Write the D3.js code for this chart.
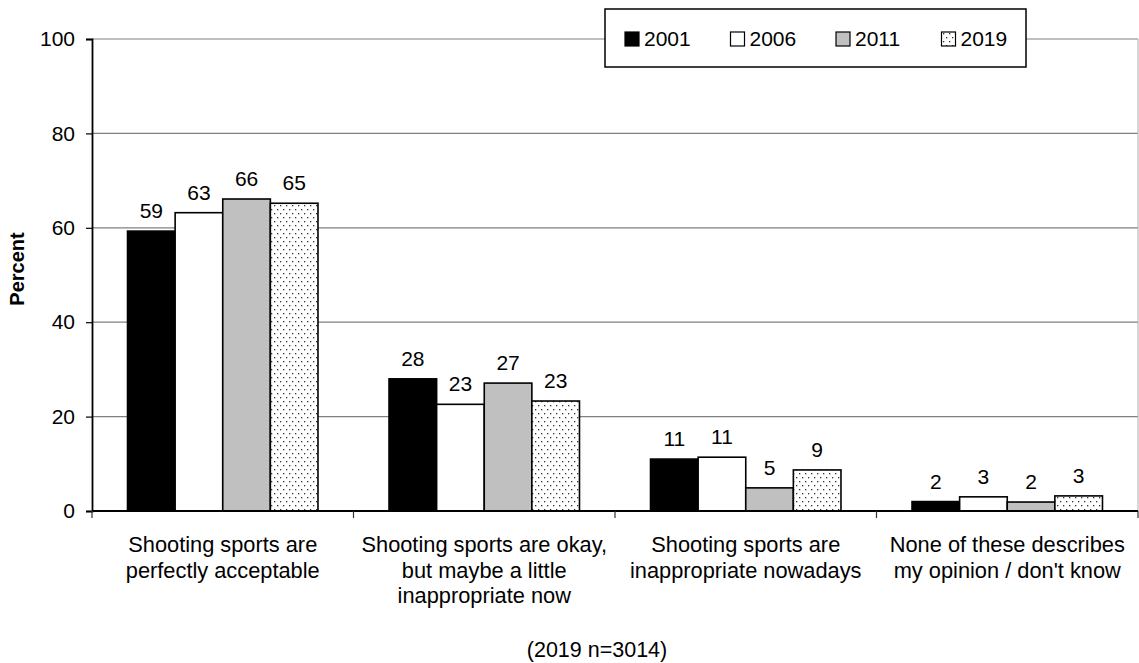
<!DOCTYPE html>
<html>
<head>
<meta charset="utf-8">
<script src="https://cdn.jsdelivr.net/npm/d3@7"></script>
<style>
  html, body { margin: 0; padding: 0; background: #fff; }
  svg { display: block; font-family: "Liberation Sans", Arial, sans-serif; }
</style>
</head>
<body>
<svg id="chart" width="1139" height="663"></svg>
<script>
// ---- data ----
const categories = [
  "Shooting sports are perfectly acceptable",
  "Shooting sports are okay, but maybe a little inappropriate now",
  "Shooting sports are inappropriate nowadays",
  "None of these describes my opinion / don't know"
];
const categoryLines = [
  ["Shooting sports are", "perfectly acceptable"],
  ["Shooting sports are okay,", "but maybe a little", "inappropriate now"],
  ["Shooting sports are", "inappropriate nowadays"],
  ["None of these describes", "my opinion / don't know"]
];
const years = ["2001", "2006", "2011", "2019"];
const values2001 = [59.3, 28.0, 11.0, 2.0];
const values2006 = [63.2, 22.6, 11.4, 3.0];
const values2011 = [66.1, 27.1, 4.9, 1.9];
const values2019 = [65.2, 23.3, 8.7, 3.2];
const labels2001 = ["59", "28", "11", "2"];
const labels2006 = ["63", "23", "11", "3"];
const labels2011 = ["66", "27", "5", "2"];
const labels2019 = ["65", "23", "9", "3"];
const yTicks = [0, 20, 40, 60, 80, 100];
const yTitle = "Percent";
const footnote = "(2019 n=3014)";

(function () {
const seriesValues = [values2001, values2006, values2011, values2019];
const seriesLabels = [labels2001, labels2006, labels2011, labels2019];
const fills = ["#000000", "#ffffff", "#c0c0c0", "url(#dots)"];

// ---- layout ----
const svg = d3.select("#chart");
const pLeft = 92, pRight = 1138, pTop = 39, pBottom = 511;

const defs = svg.append("defs");
const pat = defs.append("pattern").attr("id", "dots")
  .attr("patternUnits", "userSpaceOnUse").attr("width", 6).attr("height", 8);
pat.append("rect").attr("width", 6).attr("height", 8).attr("fill", "#fff");
pat.append("rect").attr("x", 1).attr("y", 1).attr("width", 1.3).attr("height", 1.3).attr("fill", "#333");
pat.append("rect").attr("x", 4).attr("y", 5).attr("width", 1.3).attr("height", 1.3).attr("fill", "#333");

const x0 = d3.scaleBand().domain(categories).range([pLeft, pRight]).padding(0);
const x1 = d3.scaleBand().domain(years).range([0, x0.bandwidth()])
  .paddingInner(0).paddingOuter(0.746);
const y = d3.scaleLinear().domain([0, 100]).range([pBottom, pTop]);

// gridlines
svg.append("g").selectAll("line").data(yTicks.filter(d => d > 0)).join("line")
  .attr("x1", pLeft).attr("x2", pRight)
  .attr("y1", d => y(d)).attr("y2", d => y(d))
  .attr("stroke", "#808080").attr("stroke-width", 1.2);

// right border
svg.append("line").attr("x1", pRight).attr("x2", pRight)
  .attr("y1", y(100)).attr("y2", y(0))
  .attr("stroke", "#b0b0b0").attr("stroke-width", 1);

// bars
const data = [];
categories.forEach((c, i) => years.forEach((yr, j) => {
  data.push({ c, yr, j, v: seriesValues[j][i], label: seriesLabels[j][i] });
}));

svg.append("g").selectAll("rect").data(data).join("rect")
  .attr("x", d => x0(d.c) + x1(d.yr))
  .attr("y", d => y(d.v))
  .attr("width", x1.bandwidth())
  .attr("height", d => y(0) - y(d.v))
  .attr("fill", d => fills[d.j])
  .attr("stroke", "#000").attr("stroke-width", 1.6);

// data labels
svg.append("g").selectAll("text").data(data).join("text")
  .attr("x", d => x0(d.c) + x1(d.yr) + x1.bandwidth() / 2)
  .attr("y", d => y(d.v) - 13)
  .attr("text-anchor", "middle")
  .attr("font-size", 21).attr("fill", "#000")
  .text(d => d.label);

// y axis
const yAxis = svg.append("g").attr("transform", `translate(${pLeft},0)`)
  .call(d3.axisLeft(y).tickValues(yTicks).tickSize(6).tickPadding(11));
yAxis.select(".domain").attr("stroke", "#000").attr("stroke-width", 1.8);
yAxis.selectAll(".tick line").attr("stroke", "#000").attr("stroke-width", 1.2);
yAxis.selectAll(".tick text").attr("font-size", 21).attr("fill", "#000")
  .attr("font-family", "Liberation Sans, Arial, sans-serif");

// x axis line and ticks at category boundaries
const boundaries = categories.map(c => x0(c)).concat([x0(categories[3]) + x0.bandwidth()]);
svg.append("line").attr("x1", pLeft).attr("x2", pRight)
  .attr("y1", y(0)).attr("y2", y(0)).attr("stroke", "#000").attr("stroke-width", 1.8);
svg.append("g").selectAll("line").data(boundaries).join("line")
  .attr("x1", d => d).attr("x2", d => d)
  .attr("y1", y(0)).attr("y2", y(0) + 7)
  .attr("stroke", "#333").attr("stroke-width", 1.2);

// category labels
const catG = svg.append("g");
categories.forEach((c, i) => {
  const cx = x0(c) + x0.bandwidth() / 2;
  const t = catG.append("text")
    .attr("x", cx).attr("y", 552)
    .attr("text-anchor", "middle")
    .attr("font-size", 21.8).attr("fill", "#000");
  categoryLines[i].forEach((line, k) => {
    t.append("tspan").attr("x", cx).attr("y", 552 + k * 25.5).text(line);
  });
});

// y title
svg.append("text")
  .attr("transform", "translate(24,269) rotate(-90)")
  .attr("text-anchor", "middle")
  .attr("font-size", 20).attr("font-weight", "bold").attr("fill", "#000")
  .text(yTitle);

// footnote
svg.append("text").attr("x", 597).attr("y", 657)
  .attr("text-anchor", "middle").attr("font-size", 21.5).attr("fill", "#000")
  .text(footnote);

// legend
const lg = svg.append("g");
lg.append("rect").attr("x", 605).attr("y", 9).attr("width", 421).attr("height", 58)
  .attr("fill", "#fff").attr("stroke", "#000").attr("stroke-width", 1.5);
const legendX = d3.scalePoint().domain(years).range([625, 941.5]);
years.forEach((yr, j) => {
  lg.append("rect").attr("x", legendX(yr)).attr("y", 32).attr("width", 14).attr("height", 14)
    .attr("fill", fills[j]).attr("stroke", "#000").attr("stroke-width", 1.2);
  lg.append("text").attr("x", legendX(yr) + 19).attr("y", 46)
    .attr("font-size", 21).attr("fill", "#000").text(yr);
});
})();
</script>
</body>
</html>
